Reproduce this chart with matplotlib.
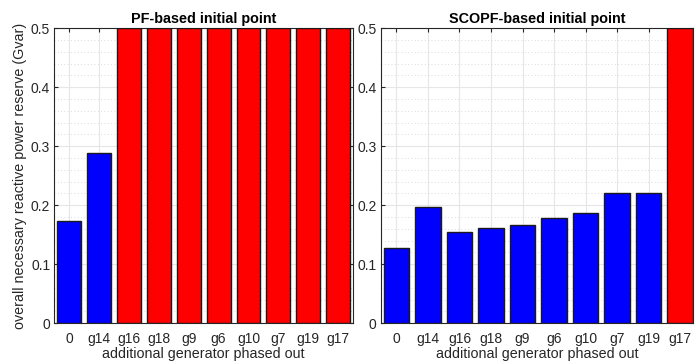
import numpy as np
import matplotlib.pyplot as plt
from matplotlib.ticker import MultipleLocator

plt.rcParams['font.family'] = ['Liberation Sans', 'DejaVu Sans']

# generators phased out (same order on both panels)
gens = ['0', 'g14', 'g16', 'g18', 'g9', 'g6', 'g10', 'g7', 'g19', 'g17']

# overall reactive power reserve needed (Gvar); red = infeasible, capped at axis top
pf_reserve = [0.173, 0.289, 0.5, 0.5, 0.5, 0.5, 0.5, 0.5, 0.5, 0.5]
pf_infeasible = [False, False, True, True, True, True, True, True, True, True]

scopf_reserve = [0.127, 0.197, 0.154, 0.162, 0.167, 0.178, 0.186, 0.221, 0.221, 0.5]
scopf_infeasible = [False] * 9 + [True]

W, H = 696, 364
fig = plt.figure(figsize=(W / 100, H / 100), dpi=100)

axcol = '#262626'


def panel(rect, vals, bad, title, xlim, ylabel=None):
    ax = fig.add_axes(rect)
    x = np.arange(1, len(vals) + 1)
    colors = ['#ff0000' if b else '#0000ff' for b in bad]
    ax.bar(x, vals, width=0.8, color=colors, edgecolor='#1a1a1a', linewidth=1.0, zorder=3)
    ax.set_xlim(*xlim)
    ax.set_ylim(0, 0.5)
    ax.set_xticks(x)
    ax.set_xticklabels(gens)
    ax.yaxis.set_minor_locator(MultipleLocator(0.02))
    ax.set_yticks([0, 0.1, 0.2, 0.3, 0.4, 0.5])
    ax.set_yticklabels(['0', '0.1', '0.2', '0.3', '0.4', '0.5'])
    ax.grid(True, which='major', color='#e6e6e6', linewidth=0.8, zorder=0)
    ax.grid(True, which='minor', axis='y', color='#cfcfcf', linestyle=(0, (1, 3)), linewidth=0.6, zorder=0)
    ax.tick_params(which='major', direction='in', length=3, top=True, right=True,
                   color=axcol, labelcolor=axcol, labelsize=10)
    ax.tick_params(axis='x', pad=6)
    ax.tick_params(axis='y', pad=3)
    ax.tick_params(which='minor', length=0)
    for s in ax.spines.values():
        s.set_color(axcol)
        s.set_linewidth(0.8)
    ax.set_title(title, fontsize=10.4, fontweight='bold', color='black', pad=4)
    ax.set_xlabel('additional generator phased out', fontsize=10.3, color=axcol, labelpad=1)
    if ylabel:
        ax.set_ylabel(ylabel, fontsize=10.3, color=axcol, labelpad=3)
    return ax


y0 = (H - 323.2) / H
hh = (323.2 - 28.3) / H
panel([54.3 / W, y0, (353 - 54.3) / W, hh], pf_reserve, pf_infeasible,
      'PF-based initial point', (0.5, 10.5),
      ylabel='overall necessary reactive power reserve (Gvar)')
panel([380.7 / W, y0, (693.3 - 380.7) / W, hh], scopf_reserve, scopf_infeasible,
      'SCOPF-based initial point', (0.5, 10.42))

fig.savefig('out.png', dpi=100)
